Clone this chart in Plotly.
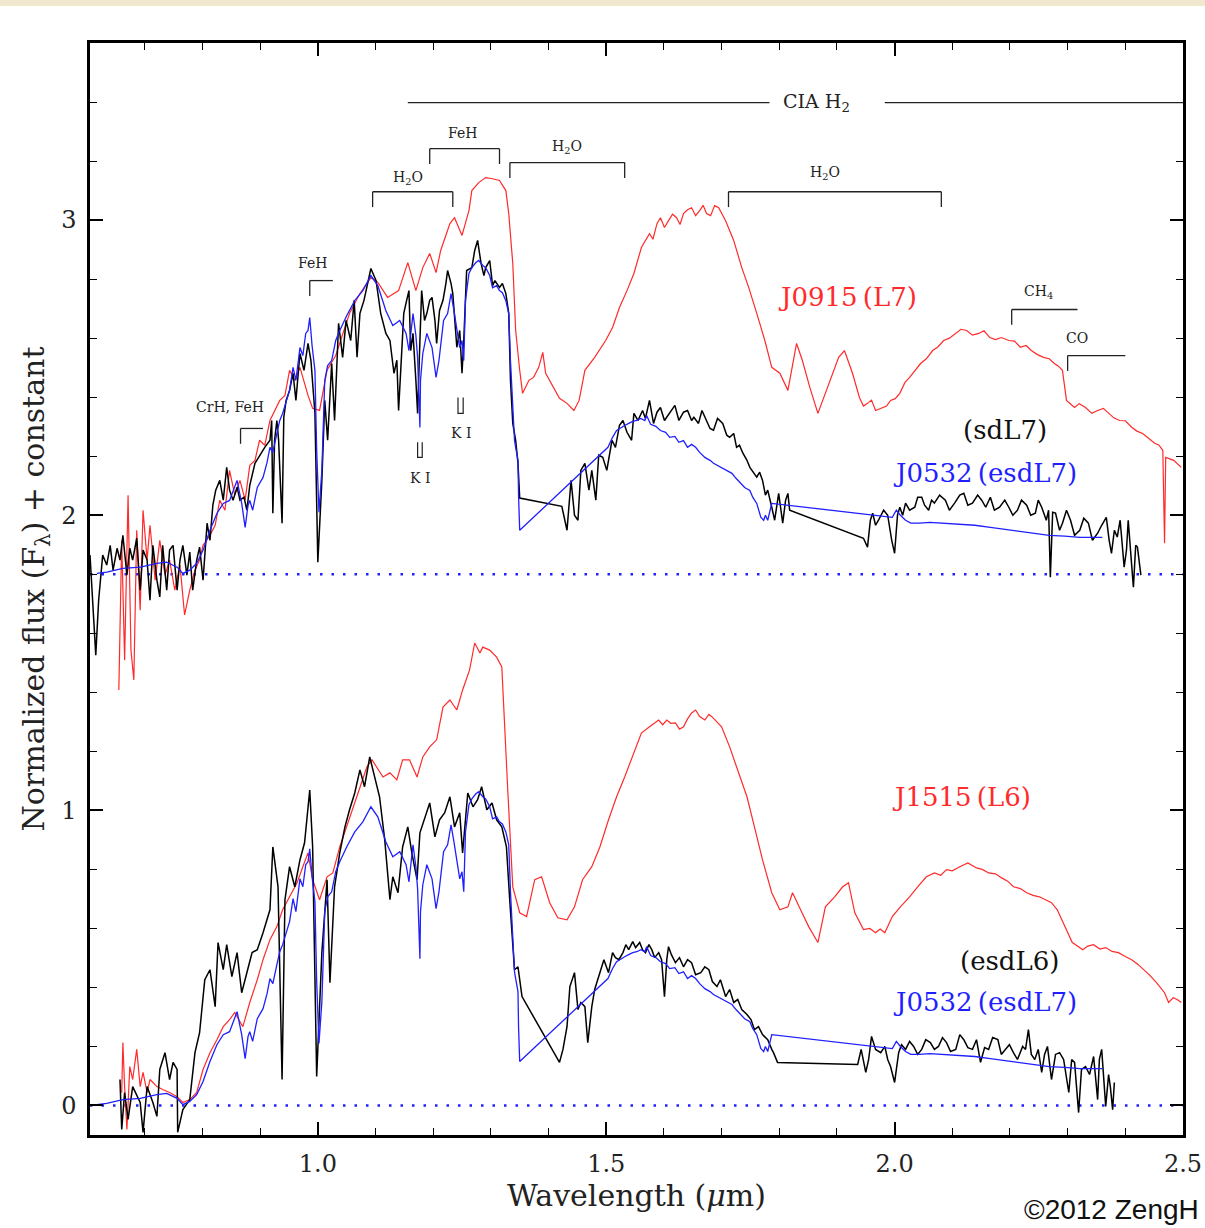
import plotly.graph_objects as go

# ------------------------------------------------------------------
# Data (wavelength in micron, flux)
# ------------------------------------------------------------------
RED_J0915 = [(0.655,1.408),(0.660,1.915),(0.665,1.509),(0.671,2.068),(0.676,1.543),(0.681,1.442),(0.686,1.949),
    (0.692,1.678),(0.697,2.017),(0.704,1.848),(0.709,1.966),(0.718,1.780),(0.726,1.915),(0.735,1.797),(0.743,1.848),
    (0.752,1.746),(0.761,1.831),(0.769,1.662),(0.778,1.746),(0.787,1.814),(0.795,1.848),(0.801,1.898),(0.813,1.932),
    (0.822,1.966),(0.830,2.051),(0.839,2.017),(0.847,2.152),(0.856,2.068),(0.865,2.118),(0.874,2.051),(0.882,2.169),
    (0.891,2.186),(0.899,2.254),(0.908,2.237),(0.917,2.321),(0.925,2.355),(0.934,2.389),(0.943,2.406),(0.951,2.491),
    (0.960,2.457),(0.969,2.501),(0.983,2.406),(0.991,2.362),(1.003,2.355),(1.016,2.491),(1.031,2.541),(1.043,2.609),
    (1.055,2.684),(1.073,2.751),(1.092,2.805),(1.104,2.789),(1.121,2.738),(1.140,2.761),(1.156,2.856),(1.170,2.761),
    (1.182,2.839),(1.194,2.887),(1.205,2.822),(1.213,2.897),(1.229,2.988),(1.237,3.008),(1.250,2.948),(1.262,3.032),
    (1.267,3.100),(1.279,3.127),(1.291,3.144),(1.303,3.140),(1.315,3.134),(1.326,3.100),(1.331,3.022),(1.338,2.853),
    (1.343,2.626),(1.350,2.491),(1.355,2.413),(1.366,2.457),(1.374,2.467),(1.383,2.501),(1.390,2.552),(1.395,2.481),
    (1.407,2.440),(1.419,2.396),(1.432,2.379),(1.444,2.355),(1.453,2.389),(1.463,2.491),(1.480,2.535),(1.499,2.592),
    (1.511,2.636),(1.523,2.704),(1.536,2.761),(1.548,2.819),(1.561,2.907),(1.575,2.954),(1.581,2.935),(1.588,2.988),
    (1.594,3.008),(1.601,2.975),(1.608,2.998),(1.615,3.020),(1.622,3.008),(1.628,2.985),(1.634,3.022),(1.641,3.035),
    (1.648,3.042),(1.655,3.015),(1.662,3.032),(1.668,3.050),(1.674,3.022),(1.681,3.015),(1.688,3.049),(1.695,3.042),
    (1.707,2.998),(1.721,2.931),(1.735,2.839),(1.747,2.772),(1.761,2.684),(1.775,2.592),(1.787,2.501),(1.801,2.481),
    (1.815,2.423),(1.830,2.582),(1.840,2.525),(1.853,2.433),(1.867,2.345),(1.880,2.413),(1.893,2.481),(1.903,2.535),
    (1.913,2.558),(1.927,2.481),(1.939,2.399),(1.946,2.370),(1.953,2.379),(1.960,2.390),(1.967,2.355),(1.979,2.365),
    (1.986,2.370),(1.993,2.389),(2.001,2.395),(2.009,2.413),(2.018,2.450),(2.026,2.467),(2.036,2.490),(2.045,2.514),
    (2.055,2.530),(2.066,2.558),(2.075,2.570),(2.085,2.592),(2.095,2.600),(2.106,2.616),(2.115,2.630),(2.125,2.626),
    (2.135,2.610),(2.146,2.616),(2.155,2.625),(2.165,2.602),(2.175,2.595),(2.185,2.602),(2.198,2.592),(2.208,2.590),
    (2.218,2.569),(2.228,2.575),(2.237,2.558),(2.247,2.545),(2.258,2.535),(2.268,2.530),(2.277,2.514),(2.284,2.505),
    (2.291,2.491),(2.298,2.389),(2.312,2.365),(2.320,2.378),(2.331,2.365),(2.342,2.345),(2.352,2.355),(2.362,2.362),
    (2.371,2.345),(2.380,2.330),(2.390,2.321),(2.400,2.320),(2.411,2.298),(2.420,2.285),(2.430,2.277),(2.440,2.262),
    (2.451,2.244),(2.458,2.238),(2.465,2.220),(2.468,1.905),(2.470,2.196),(2.484,2.186),(2.497,2.162)]

BLACK_SDL7 = [(0.605,1.865),(0.610,1.712),(0.615,1.526),(0.620,1.712),(0.627,1.865),(0.634,1.831),(0.640,1.898),
    (0.645,1.814),(0.652,1.888),(0.657,1.848),(0.662,1.932),(0.669,1.797),(0.674,1.888),(0.679,1.848),(0.686,1.922),
    (0.692,1.746),(0.697,1.882),(0.704,1.848),(0.709,1.712),(0.714,1.898),(0.721,1.780),(0.726,1.723),(0.731,1.898),
    (0.738,1.746),(0.743,1.882),(0.749,1.898),(0.756,1.746),(0.761,1.848),(0.766,1.898),(0.773,1.797),(0.778,1.875),
    (0.783,1.746),(0.790,1.848),(0.795,1.892),(0.801,1.780),(0.808,1.973),(0.813,1.915),(0.818,2.034),(0.823,2.085),
    (0.830,2.118),(0.836,2.051),(0.842,2.162),(0.847,2.085),(0.853,2.051),(0.860,2.095),(0.865,2.051),(0.872,2.061),
    (0.877,2.017),(0.882,2.101),(0.891,2.176),(0.899,2.203),(0.908,2.230),(0.917,2.254),(0.920,2.321),(0.922,2.007),
    (0.925,2.254),(0.929,2.321),(0.932,2.254),(0.938,1.973),(0.941,2.332),(0.945,2.389),(0.951,2.423),(0.957,2.481),
    (0.962,2.389),(0.969,2.548),(0.976,2.491),(0.983,2.582),(0.988,2.525),(0.995,2.345),(1.000,1.841),(1.007,2.118),
    (1.012,2.389),(1.017,2.254),(1.024,2.514),(1.029,2.321),(1.036,2.650),(1.043,2.535),(1.049,2.660),(1.057,2.592),
    (1.063,2.728),(1.068,2.535),(1.073,2.684),(1.080,2.728),(1.085,2.772),(1.092,2.836),(1.101,2.795),(1.109,2.684),
    (1.118,2.616),(1.125,2.592),(1.132,2.481),(1.137,2.525),(1.140,2.355),(1.146,2.558),(1.149,2.684),(1.154,2.728),
    (1.158,2.761),(1.161,2.558),(1.165,2.616),(1.170,2.457),(1.173,2.345),(1.177,2.592),(1.180,2.761),(1.185,2.660),
    (1.189,2.684),(1.194,2.728),(1.198,2.738),(1.203,2.660),(1.206,2.582),(1.211,2.694),(1.217,2.728),(1.222,2.785),
    (1.225,2.829),(1.231,2.785),(1.234,2.751),(1.241,2.569),(1.246,2.626),(1.250,2.481),(1.253,2.592),(1.258,2.829),
    (1.267,2.839),(1.272,2.897),(1.277,2.931),(1.283,2.853),(1.288,2.812),(1.291,2.839),(1.298,2.863),(1.303,2.778),
    (1.307,2.795),(1.315,2.772),(1.320,2.785),(1.326,2.751),(1.331,2.684),(1.334,2.457),(1.338,2.311),(1.343,2.254),
    (1.347,2.176),(1.350,2.058),(1.423,2.030),(1.432,1.949),(1.439,2.118),(1.445,2.000),(1.451,1.983),(1.456,2.152),
    (1.463,2.176),(1.470,2.085),(1.475,2.152),(1.482,2.051),(1.487,2.203),(1.494,2.196),(1.501,2.152),(1.510,2.254),
    (1.516,2.230),(1.523,2.305),(1.529,2.321),(1.536,2.281),(1.544,2.254),(1.548,2.345),(1.555,2.321),(1.563,2.355),
    (1.568,2.328),(1.575,2.389),(1.582,2.311),(1.588,2.349),(1.594,2.365),(1.601,2.321),(1.610,2.345),(1.619,2.372),
    (1.626,2.321),(1.634,2.349),(1.641,2.355),(1.648,2.321),(1.652,2.332),(1.660,2.311),(1.666,2.355),(1.671,2.332),
    (1.680,2.294),(1.686,2.288),(1.693,2.328),(1.702,2.311),(1.709,2.271),(1.714,2.264),(1.721,2.277),(1.726,2.230),
    (1.731,2.237),(1.737,2.210),(1.744,2.186),(1.749,2.162),(1.755,2.146),(1.761,2.129),(1.766,2.146),(1.771,2.118),
    (1.776,2.068),(1.780,2.085),(1.787,2.027),(1.792,1.983),(1.799,2.074),(1.806,1.973),(1.811,2.051),(1.815,2.074),
    (1.818,2.017),(1.946,1.922),(1.953,1.892),(1.958,1.983),(1.962,2.007),(1.967,1.966),(1.972,1.983),(1.981,2.017),
    (1.988,2.000),(1.995,1.915),(2.000,1.871),(2.005,2.000),(2.009,2.027),(2.014,2.000),(2.019,2.041),(2.026,2.017),
    (2.035,2.027),(2.040,2.061),(2.047,2.061),(2.052,2.034),(2.059,2.017),(2.064,2.051),(2.069,2.041),(2.078,2.068),
    (2.088,2.051),(2.095,2.017),(2.104,2.041),(2.113,2.068),(2.120,2.074),(2.127,2.034),(2.135,2.041),(2.144,2.068),
    (2.151,2.051),(2.158,2.027),(2.166,2.061),(2.173,2.017),(2.182,2.027),(2.191,2.051),(2.198,2.027),(2.205,2.000),
    (2.213,2.017),(2.220,2.051),(2.229,2.034),(2.236,2.000),(2.244,2.007),(2.249,2.051),(2.255,2.027),(2.263,1.983),
    (2.267,2.017),(2.270,1.790),(2.274,2.010),(2.279,2.007),(2.286,1.949),(2.291,1.973),(2.298,2.017),(2.305,1.983),
    (2.312,1.932),(2.321,1.949),(2.328,1.990),(2.336,1.973),(2.343,1.915),(2.352,1.939),(2.359,1.966),(2.367,1.993),
    (2.372,1.915),(2.376,1.871),(2.381,1.949),(2.386,1.926),(2.391,1.983),(2.398,1.824),(2.402,1.882),(2.405,1.983),
    (2.411,1.831),(2.414,1.756),(2.418,1.898),(2.421,1.892),(2.427,1.797)]

# J0532 (esdL7) relative to its own zero; it is drawn twice with the offsets below
BLUE_J0532 = [(0.617,0.003),(0.634,0.007),(0.662,0.020),(0.692,0.024),(0.721,0.037),(0.738,0.041),(0.756,0.024),
    (0.766,0.003),(0.778,0.014),(0.790,0.037),(0.801,0.081),(0.813,0.149),(0.825,0.206),(0.836,0.240),(0.847,0.250),
    (0.860,0.318),(0.868,0.240),(0.874,0.159),(0.879,0.234),(0.882,0.250),(0.887,0.217),(0.895,0.294),(0.905,0.328),
    (0.912,0.379),(0.917,0.430),(0.922,0.413),(0.929,0.477),(0.934,0.521),(0.939,0.545),(0.946,0.589),(0.951,0.623),
    (0.957,0.701),(0.962,0.657),(0.969,0.768),(0.974,0.741),(0.979,0.816),(0.983,0.826),(0.986,0.870),(0.990,0.775),
    (0.995,0.690),(0.998,0.420),(1.002,0.210),(1.007,0.352),(1.012,0.657),(1.017,0.707),(1.024,0.724),(1.031,0.792),
    (1.038,0.826),(1.050,0.876),(1.064,0.927),(1.078,0.961),(1.092,1.012),(1.104,0.978),(1.118,0.893),(1.130,0.843),
    (1.142,0.860),(1.153,0.816),(1.158,0.758),(1.165,0.883),(1.170,0.809),(1.173,0.734),(1.177,0.497),(1.178,0.657),
    (1.182,0.748),(1.189,0.816),(1.198,0.768),(1.205,0.667),(1.210,0.724),(1.213,0.768),(1.218,0.860),(1.225,0.883),
    (1.231,0.951),(1.236,0.893),(1.241,0.836),(1.246,0.768),(1.250,0.792),(1.253,0.724),(1.256,0.927),(1.262,1.019),
    (1.267,1.039),(1.274,1.056),(1.279,1.063),(1.286,1.046),(1.291,1.039),(1.298,1.012),(1.303,0.971),(1.310,0.978),
    (1.315,0.961),(1.320,0.954),(1.326,0.927),(1.331,0.883),(1.334,0.724),(1.338,0.545),(1.341,0.453),(1.343,0.430),
    (1.347,0.386),(1.348,0.267),(1.350,0.149),(1.503,0.430),(1.511,0.464),(1.518,0.487),(1.525,0.497),(1.532,0.504),
    (1.539,0.511),(1.546,0.518),(1.553,0.521),(1.560,0.528),(1.567,0.521),(1.570,0.538),(1.577,0.508),(1.586,0.501),
    (1.594,0.487),(1.603,0.481),(1.610,0.464),(1.619,0.467),(1.626,0.447),(1.634,0.453),(1.641,0.430),(1.648,0.440),
    (1.655,0.430),(1.662,0.413),(1.671,0.396),(1.680,0.386),(1.686,0.376),(1.693,0.369),(1.702,0.359),(1.709,0.352),
    (1.718,0.342),(1.725,0.325),(1.733,0.308),(1.740,0.294),(1.749,0.284),(1.754,0.261),(1.761,0.240),(1.764,0.217),
    (1.768,0.193),(1.773,0.183),(1.776,0.200),(1.780,0.183),(1.783,0.210),(1.787,0.240),(1.996,0.193),(2.003,0.217),
    (2.010,0.200),(2.019,0.183),(2.028,0.173),(2.043,0.173),(2.061,0.176),(2.088,0.173),(2.113,0.169),(2.139,0.166),
    (2.166,0.159),(2.191,0.152),(2.217,0.146),(2.244,0.139),(2.268,0.132),(2.295,0.129),(2.321,0.125),(2.341,0.125),
    (2.360,0.125)]

RED_J1515 = [(0.660,0.044),(0.662,0.213),(0.665,0.064),(0.669,-0.081),(0.674,0.132),(0.679,0.088),(0.686,0.190),
    (0.692,0.064),(0.697,0.112),(0.704,0.044),(0.709,0.088),(0.721,0.064),(0.731,0.054),(0.743,0.044),(0.756,0.030),
    (0.766,0.010),(0.778,0.020),(0.790,0.044),(0.801,0.122),(0.813,0.179),(0.825,0.223),(0.836,0.267),(0.847,0.291),
    (0.856,0.315),(0.870,0.267),(0.882,0.349),(0.895,0.426),(0.905,0.494),(0.917,0.562),(0.929,0.606),(0.939,0.663),
    (0.951,0.707),(0.964,0.755),(0.974,0.809),(0.983,0.856),(0.991,0.765),(1.003,0.697),(1.016,0.775),(1.026,0.788),
    (1.038,0.876),(1.050,0.944),(1.061,1.012),(1.073,1.080),(1.085,1.147),(1.094,1.171),(1.102,1.147),(1.113,1.113),
    (1.125,1.127),(1.137,1.103),(1.147,1.171),(1.159,1.171),(1.172,1.113),(1.182,1.181),(1.194,1.215),(1.206,1.239),
    (1.217,1.350),(1.229,1.374),(1.241,1.340),(1.251,1.408),(1.263,1.475),(1.272,1.567),(1.281,1.533),(1.286,1.553),
    (1.298,1.543),(1.310,1.519),(1.319,1.486),(1.324,1.306),(1.329,1.080),(1.338,0.741),(1.350,0.653),(1.362,0.640),
    (1.376,0.765),(1.388,0.775),(1.402,0.687),(1.416,0.636),(1.432,0.629),(1.445,0.673),(1.459,0.765),(1.475,0.809),
    (1.489,0.876),(1.504,0.968),(1.518,1.046),(1.532,1.113),(1.548,1.195),(1.561,1.262),(1.575,1.283),(1.591,1.306),
    (1.598,1.290),(1.605,1.306),(1.612,1.295),(1.620,1.296),(1.627,1.275),(1.634,1.283),(1.641,1.310),(1.648,1.330),
    (1.655,1.340),(1.662,1.318),(1.671,1.306),(1.678,1.325),(1.684,1.316),(1.692,1.300),(1.700,1.283),(1.714,1.215),
    (1.728,1.137),(1.744,1.046),(1.757,0.944),(1.771,0.832),(1.787,0.721),(1.801,0.663),(1.815,0.673),(1.823,0.721),
    (1.837,0.663),(1.851,0.606),(1.867,0.552),(1.880,0.673),(1.896,0.707),(1.910,0.741),(1.920,0.755),(1.931,0.653),
    (1.946,0.596),(1.957,0.600),(1.967,0.585),(1.975,0.598),(1.983,0.585),(1.996,0.640),(2.010,0.673),(2.026,0.707),
    (2.040,0.741),(2.055,0.775),(2.069,0.788),(2.080,0.780),(2.090,0.799),(2.100,0.795),(2.113,0.809),(2.127,0.822),
    (2.142,0.805),(2.152,0.800),(2.163,0.788),(2.175,0.785),(2.185,0.772),(2.196,0.760),(2.206,0.741),(2.218,0.735),
    (2.229,0.721),(2.240,0.712),(2.251,0.707),(2.262,0.695),(2.272,0.687),(2.282,0.663),(2.295,0.606),(2.308,0.552),
    (2.317,0.540),(2.326,0.528),(2.335,0.540),(2.345,0.545),(2.356,0.530),(2.366,0.535),(2.377,0.522),(2.388,0.518),
    (2.400,0.505),(2.411,0.494),(2.422,0.478),(2.432,0.460),(2.443,0.440),(2.454,0.416),(2.468,0.382),(2.475,0.349),
    (2.483,0.365),(2.490,0.359),(2.497,0.349)]

BLACK_ESDL6 = [(0.657,0.088),(0.660,-0.081),(0.665,0.044),(0.671,-0.047),(0.679,0.064),(0.692,0.010),(0.697,-0.091),
    (0.704,0.064),(0.714,0.010),(0.721,-0.037),(0.726,0.122),(0.735,0.179),(0.743,0.088),(0.749,0.146),(0.756,0.122),
    (0.757,-0.091),(0.766,-0.014),(0.778,0.020),(0.787,0.179),(0.795,0.247),(0.804,0.426),(0.813,0.460),(0.822,0.335),
    (0.827,0.552),(0.836,0.460),(0.842,0.545),(0.851,0.437),(0.860,0.518),(0.868,0.382),(0.877,0.450),(0.886,0.518),
    (0.895,0.528),(0.905,0.585),(0.917,0.663),(0.922,0.876),(0.931,0.741),(0.938,0.088),(0.943,0.697),(0.951,0.809),
    (0.960,0.741),(0.969,0.832),(0.977,0.890),(0.986,1.069),(0.991,0.876),(0.998,0.098),(1.007,0.518),(1.016,0.765),
    (1.021,0.416),(1.029,0.741),(1.038,0.856),(1.047,0.944),(1.055,1.002),(1.064,1.059),(1.073,1.137),(1.081,1.080),
    (1.090,1.181),(1.099,1.113),(1.107,1.046),(1.116,0.900),(1.125,0.697),(1.130,0.775),(1.139,0.721),(1.147,0.876),
    (1.156,0.944),(1.163,0.856),(1.172,0.765),(1.177,0.924),(1.185,0.968),(1.194,1.025),(1.203,0.910),(1.211,0.968),
    (1.220,0.992),(1.229,1.046),(1.237,0.944),(1.246,0.992),(1.251,0.856),(1.260,1.059),(1.269,1.012),(1.277,1.036),
    (1.284,1.080),(1.293,1.002),(1.302,1.025),(1.310,0.968),(1.319,0.944),(1.327,0.876),(1.333,0.687),(1.341,0.460),
    (1.347,0.470),(1.354,0.369),(1.419,0.146),(1.425,0.190),(1.432,0.267),(1.437,0.403),(1.445,0.450),(1.451,0.325),
    (1.456,0.349),(1.463,0.335),(1.468,0.213),(1.475,0.335),(1.480,0.393),(1.485,0.426),(1.496,0.494),(1.504,0.450),
    (1.511,0.518),(1.516,0.501),(1.522,0.494),(1.529,0.518),(1.534,0.545),(1.539,0.528),(1.546,0.555),(1.551,0.535),
    (1.558,0.552),(1.563,0.528),(1.568,0.518),(1.574,0.545),(1.579,0.528),(1.584,0.501),(1.591,0.518),(1.596,0.494),
    (1.601,0.369),(1.605,0.494),(1.608,0.538),(1.613,0.511),(1.620,0.484),(1.627,0.501),(1.634,0.470),(1.641,0.494),
    (1.648,0.484),(1.655,0.443),(1.664,0.450),(1.671,0.470),(1.678,0.460),(1.684,0.420),(1.692,0.403),(1.698,0.426),
    (1.707,0.369),(1.714,0.393),(1.721,0.349),(1.728,0.359),(1.735,0.325),(1.744,0.308),(1.751,0.291),(1.757,0.257),
    (1.764,0.267),(1.771,0.240),(1.780,0.223),(1.787,0.190),(1.790,0.179),(1.797,0.146),(1.936,0.139),(1.942,0.190),
    (1.950,0.112),(1.955,0.156),(1.960,0.234),(1.967,0.190),(1.976,0.179),(1.983,0.200),(1.988,0.156),(1.993,0.132),
    (2.000,0.078),(2.007,0.179),(2.012,0.206),(2.019,0.190),(2.026,0.217),(2.033,0.200),(2.040,0.173),(2.047,0.190),
    (2.054,0.223),(2.062,0.213),(2.069,0.190),(2.076,0.200),(2.083,0.230),(2.090,0.213),(2.097,0.183),(2.106,0.190),
    (2.113,0.240),(2.120,0.223),(2.127,0.196),(2.135,0.190),(2.142,0.223),(2.149,0.146),(2.156,0.196),(2.163,0.190),
    (2.170,0.230),(2.179,0.223),(2.185,0.173),(2.192,0.190),(2.199,0.206),(2.206,0.179),(2.213,0.156),(2.222,0.200),
    (2.227,0.190),(2.232,0.257),(2.237,0.173),(2.243,0.156),(2.249,0.190),(2.255,0.112),(2.260,0.173),(2.265,0.200),
    (2.272,0.088),(2.279,0.173),(2.286,0.179),(2.293,0.156),(2.302,0.044),(2.307,0.156),(2.312,0.146),(2.319,-0.024),
    (2.324,0.122),(2.331,0.132),(2.338,0.105),(2.345,0.166),(2.352,0.020),(2.355,0.156),(2.359,0.190),(2.366,-0.003),
    (2.371,0.105),(2.374,0.064),(2.378,-0.014),(2.381,0.078)]

UPPER_OFFSET = 1.8
LOWER_OFFSET = 0.0

X_RANGE = [0.605, 2.5]
Y_RANGE = [-0.1, 3.6]
X_TICKS = [1.0, 1.5, 2.0, 2.5]
X_TICK_TEXT = ["1.0", "1.5", "2.0", "2.5"]
Y_TICKS = [0, 1, 2, 3]
Y_TICK_TEXT = ["0", "1", "2", "3"]

# absorption-band brackets
BAND_LABELS = ["H<sub>2</sub>O", "FeH", "H<sub>2</sub>O", "H<sub>2</sub>O", "CH<sub>4</sub>", "CO", "FeH", "CrH, FeH"]
BAND_X0 = [1.095, 1.194, 1.333, 1.712, 2.203, 2.300, 0.986, 0.866]
BAND_X1 = [1.234, 1.315, 1.532, 2.081, 2.317, 2.400, 1.026, 0.905]
BAND_Y = [3.096, 3.242, 3.195, 3.096, 2.697, 2.541, 2.795, 2.294]
BAND_BOTH_ENDS = [True, True, True, True, False, False, False, False]
BAND_LABEL_X = [1.156, 1.250, 1.432, 1.880, 2.250, 2.317, 0.991, 0.847]
BAND_LABEL_Y = [3.144, 3.296, 3.249, 3.161, 2.758, 2.602, 2.853, 2.365]

CIA_LABEL = "CIA H<sub>2</sub>"
CIA_Y = 3.398
CIA_SEGMENTS = [(1.156, 1.783), (1.983, 2.5)]
CIA_LABEL_X = 1.865

KI_X0 = [1.173, 1.243]
KI_X1 = [1.181, 1.252]
KI_TOP = [2.247, 2.399]
KI_BOT = [2.196, 2.345]
KI_LABEL_Y = [2.125, 2.277]

SPEC_LABELS = ["J0915\u2009(L7)", "(sdL7)", "J0532\u2009(esdL7)", "J1515\u2009(L6)", "(esdL6)", "J0532\u2009(esdL7)"]
SPEC_LABEL_X = [1.918, 2.191, 2.156, 2.116, 2.199, 2.156]
SPEC_LABEL_Y = [2.741, 2.288, 2.142, 1.046, 0.491, 0.349]

# ------------------------------------------------------------------
RED = "#ff2a2a"
BLUE = "#1f1fff"
BLACK = "#000000"
SERIF = "DejaVu Serif"
SPEC_LABEL_COLORS = [RED, "#111111", BLUE, RED, "#111111", BLUE]

W, H = 1205, 1228
ML, MR, MT, MB = 90, 22, 43, 93


def xs(pairs):
    return [p[0] for p in pairs]


def ys(pairs, offset=0.0):
    return [p[1] + offset for p in pairs]


fig = go.Figure()

# dotted zero levels
for base in (UPPER_OFFSET, LOWER_OFFSET):
    fig.add_trace(go.Scatter(x=X_RANGE, y=[base, base], mode="lines",
                             line=dict(color=BLUE, width=2.5, dash="2.5px,9px"),
                             showlegend=False, hoverinfo="skip"))

# spectra
fig.add_trace(go.Scatter(x=xs(RED_J0915), y=ys(RED_J0915), mode="lines",
                         line=dict(color=RED, width=1.2), name="J0915 (L7)", showlegend=False))
fig.add_trace(go.Scatter(x=xs(RED_J1515), y=ys(RED_J1515), mode="lines",
                         line=dict(color=RED, width=1.2), name="J1515 (L6)", showlegend=False))
fig.add_trace(go.Scatter(x=xs(BLACK_SDL7), y=ys(BLACK_SDL7), mode="lines",
                         line=dict(color=BLACK, width=1.5), name="sdL7", showlegend=False))
fig.add_trace(go.Scatter(x=xs(BLACK_ESDL6), y=ys(BLACK_ESDL6), mode="lines",
                         line=dict(color=BLACK, width=1.5), name="esdL6", showlegend=False))
for off in (UPPER_OFFSET, LOWER_OFFSET):
    fig.add_trace(go.Scatter(x=xs(BLUE_J0532), y=ys(BLUE_J0532, off), mode="lines",
                             line=dict(color=BLUE, width=1.3), name="J0532 (esdL7)", showlegend=False))

# band brackets
DROP = 0.052
shape_line = dict(color="#222222", width=1.3)
for x0, x1, y, both in zip(BAND_X0, BAND_X1, BAND_Y, BAND_BOTH_ENDS):
    fig.add_shape(type="line", x0=x0, x1=x1, y0=y, y1=y, line=shape_line)
    fig.add_shape(type="line", x0=x0, x1=x0, y0=y, y1=y - DROP, line=shape_line)
    if both:
        fig.add_shape(type="line", x0=x1, x1=x1, y0=y, y1=y - DROP, line=shape_line)
for lab, lx, ly in zip(BAND_LABELS, BAND_LABEL_X, BAND_LABEL_Y):
    fig.add_annotation(x=lx, y=ly, text=lab, showarrow=False, xanchor="center", yanchor="middle",
                       font=dict(family=SERIF, size=14, color="#222222"))

# CIA H2
for a, b in CIA_SEGMENTS:
    fig.add_shape(type="line", x0=a, x1=b, y0=CIA_Y, y1=CIA_Y, line=shape_line)
fig.add_annotation(x=CIA_LABEL_X, y=CIA_Y, text=CIA_LABEL, showarrow=False, xanchor="center",
                   yanchor="middle", font=dict(family=SERIF, size=19, color="#222222"))

# K I doublet markers
for x0, x1, yt, yb, ly in zip(KI_X0, KI_X1, KI_TOP, KI_BOT, KI_LABEL_Y):
    fig.add_shape(type="path", path=f"M {x0},{yt} L {x0},{yb} L {x1},{yb} L {x1},{yt}",
                  line=dict(color="#222222", width=1.2))
    fig.add_annotation(x=(x0 + x1) / 2, y=ly, text="K I", showarrow=False, xanchor="center",
                       yanchor="middle", font=dict(family=SERIF, size=14, color="#222222"))

# spectrum labels
for lab, lx, ly, col in zip(SPEC_LABELS, SPEC_LABEL_X, SPEC_LABEL_Y, SPEC_LABEL_COLORS):
    fig.add_annotation(x=lx, y=ly, text=lab, showarrow=False, xanchor="center", yanchor="middle",
                       font=dict(family=SERIF, size=26, color=col))

# copyright
fig.add_annotation(xref="paper", yref="paper", x=(1022 - ML) / (W - ML - MR),
                   y=-(1209 - (H - MB)) / (H - MT - MB), text="\u00a92012 ZengH", showarrow=False,
                   xanchor="left", yanchor="middle",
                   font=dict(family="Liberation Sans Narrow, Liberation Sans, Arial", size=28, color="#111111"))

# beige strip at the very top of the page
PW = W - ML - MR
PH = H - MT - MB
fig.add_shape(type="rect", xref="paper", yref="paper", x0=-ML / PW, x1=1 + MR / PW,
              y0=1 + (MT - 6) / PH, y1=1 + MT / PH, fillcolor="#f1e8d0", line=dict(width=0), layer="below")

axis_common = dict(showline=True, linewidth=2.5, linecolor="black", mirror="ticks", showgrid=False,
                   zeroline=False, ticks="inside", tickwidth=1.5, tickcolor="black", ticklen=13,
                   tickfont=dict(family=SERIF, size=24, color="#222222"))

fig.update_layout(
    width=W, height=H,
    margin=dict(l=ML, r=MR, t=MT, b=MB, autoexpand=False),
    paper_bgcolor="white", plot_bgcolor="white",
    showlegend=False,
    xaxis=dict(range=X_RANGE, tickmode="array", tickvals=X_TICKS, ticktext=X_TICK_TEXT,
               minor=dict(tickmode="linear", tick0=0.0, dtick=0.1, ticks="inside", ticklen=7,
                          tickwidth=1.3, tickcolor="black"),
               ticklabelstandoff=5,
               title=dict(text="Wavelength (<i>\u03bc</i>m)", font=dict(family=SERIF, size=30, color="#222222"),
                          standoff=8),
               **axis_common),
    yaxis=dict(range=Y_RANGE, tickmode="array", tickvals=Y_TICKS, ticktext=Y_TICK_TEXT,
               minor=dict(tickmode="linear", tick0=0.0, dtick=0.2, ticks="inside", ticklen=7,
                          tickwidth=1.3, tickcolor="black"),
               ticklabelstandoff=6,
               title=dict(text="Normalized flux (F<sub>\u03bb</sub>) + constant",
                          font=dict(family=SERIF, size=30, color="#222222"), standoff=8),
               **axis_common),
)

fig.write_html("out.html")
